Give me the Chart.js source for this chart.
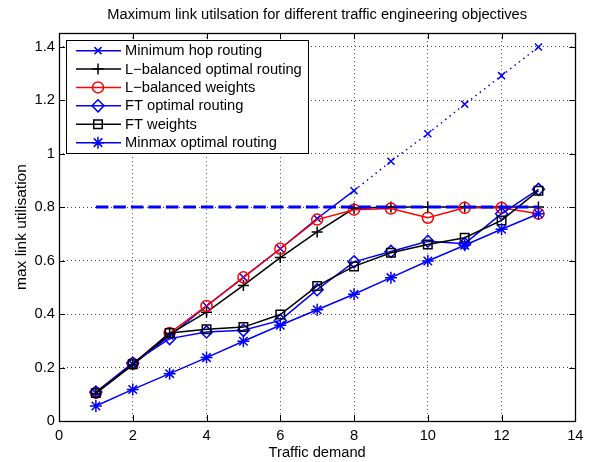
<!DOCTYPE html>
<html>
<head>
<meta charset="utf-8">
<script src="https://cdn.jsdelivr.net/npm/chart.js@4/dist/chart.umd.min.js"></script>
<style>
html,body{margin:0;padding:0;background:#fff;}
#wrap{width:590px;height:462px;position:relative;}
</style>
</head>
<body>
<div id="wrap"><canvas id="c" width="590" height="462"></canvas></div>
<script>
const demand = [1,2,3,4,5,6,7,8,9,10,11,12,13];
const minHop      = [0.105,0.212,0.318,0.43,0.537,0.644,0.757,0.861,0.971,1.074,1.184,1.291,1.398];
const lbOptimal   = [0.103,0.21,0.325,0.407,0.507,0.611,0.707,0.795,0.8,0.8,0.8,0.8,0.8];
const lbWeights   = [0.105,0.214,0.329,0.43,0.537,0.644,0.753,0.79,0.794,0.76,0.797,0.797,0.775];
const ftOptimal   = [0.108,0.217,0.308,0.333,0.339,0.376,0.491,0.595,0.634,0.672,0.663,0.775,0.866];
const ftWeights   = [0.105,0.212,0.329,0.343,0.351,0.398,0.505,0.578,0.629,0.66,0.685,0.75,0.861];
const minmax      = [0.056,0.118,0.177,0.237,0.298,0.358,0.416,0.474,0.536,0.598,0.657,0.717,0.775];
const capacityX   = [1,13];
const capacityY   = [0.8,0.8];
const xTicks = [0,2,4,6,8,10,12,14];
const yTicks = [0,0.2,0.4,0.6,0.8,1,1.2,1.4];
const seriesNames = ['Minimum hop routing','L\u2212balanced optimal routing','L\u2212balanced weights','FT optimal routing','FT weights','Minmax optimal routing'];

const pts = (xs, ys) => xs.map((x,i)=>({x:x,y:ys[i]}));
const FONT = "'Liberation Sans', Arial, sans-serif";
const FS = 14.7;

const styles = [
  {color:'#0000ff', point:'crossRot', r:5},
  {color:'#000000', point:'cross', r:5.5},
  {color:'#ff0000', point:'circle', r:5.5},
  {color:'#0000ff', point:'rectRot', r:6},
  {color:'#000000', point:'rect', r:6},
  {color:'#0000ff', point:'star', r:6}
];
const seriesData = [minHop, lbOptimal, lbWeights, ftOptimal, ftWeights, minmax];

const datasets = seriesData.map((d,i)=>({
  label: seriesNames[i],
  data: pts(demand, d),
  borderColor: styles[i].color,
  backgroundColor: 'transparent',
  borderWidth: 1.5,
  pointStyle: styles[i].point,
  pointRadius: styles[i].r,
  pointBorderColor: styles[i].color,
  pointBackgroundColor: 'transparent',
  pointBorderWidth: 1.5,
  tension: 0,
  order: 6 - i,
  segment: i === 0 ? { borderDash: ctx => ctx.p0DataIndex >= 7 ? [1.5,4] : undefined } : undefined
}));
datasets.push({
  label: 'capacity',
  data: pts(capacityX, capacityY),
  borderColor: '#0000ff',
  borderWidth: 3,
  borderDash: [12.5,5],
  pointRadius: 0,
  order: 0
});

const framePlugin = {
  id: 'frame',
  afterLayout(chart) {
    const tb = chart.titleBlock;
    if (tb) {
      tb.left = chart.chartArea.left;
      tb.right = chart.chartArea.right;
      tb.width = tb.right - tb.left;
    }
  },
  afterDatasetsDraw(chart) {
    const {ctx, chartArea: a, scales} = chart;
    ctx.save();
    ctx.strokeStyle = '#000';
    ctx.lineWidth = 1;
    ctx.beginPath();
    xTicks.forEach(v => {
      const px = Math.round(scales.x.getPixelForValue(v)) + 0.5;
      ctx.moveTo(px, a.bottom); ctx.lineTo(px, a.bottom - 6);
      ctx.moveTo(px, a.top); ctx.lineTo(px, a.top + 6);
    });
    yTicks.forEach(v => {
      const py = Math.round(scales.y.getPixelForValue(v)) + 0.5;
      ctx.moveTo(a.left, py); ctx.lineTo(a.left + 6, py);
      ctx.moveTo(a.right, py); ctx.lineTo(a.right - 6, py);
    });
    ctx.stroke();
    ctx.lineWidth = 1.3;
    ctx.strokeRect(Math.round(a.left)+0.5, Math.round(a.top)+0.5, Math.round(a.right-a.left), Math.round(a.bottom-a.top));

    // legend box
    const lx = a.left + 7, ly = a.top + 7, lw = 242, lh = 113;
    ctx.fillStyle = '#fff';
    ctx.fillRect(lx, ly, lw, lh);
    ctx.lineWidth = 1;
    ctx.strokeStyle = '#000';
    ctx.strokeRect(Math.round(lx)+0.5, Math.round(ly)+0.5, lw, lh);
    ctx.font = FS + 'px ' + FONT;
    ctx.textBaseline = 'middle';
    ctx.textAlign = 'left';
    seriesNames.forEach((name, i) => {
      const y = ly + 10.5 + i * 18.4;
      const st = styles[i];
      ctx.strokeStyle = st.color;
      ctx.lineWidth = 1.5;
      ctx.setLineDash([]);
      ctx.beginPath();
      ctx.moveTo(lx + 10, y); ctx.lineTo(lx + 55, y);
      ctx.stroke();
      ctx.fillStyle = 'rgba(0,0,0,0)';
      ctx.strokeStyle = st.color;
      Chart.helpers.drawPoint(ctx, {pointStyle: st.point, radius: st.r, borderWidth: 1.5, rotation: 0}, lx + 32, y);
      ctx.fillStyle = '#000';
      ctx.fillText(name, lx + 59, y + 0.5);
    });
    ctx.restore();
  }
};

new Chart(document.getElementById('c'), {
  type: 'line',
  data: { datasets },
  options: {
    responsive: false,
    animation: false,
    devicePixelRatio: 1,
    layout: { padding: { left: 0, right: 11, top: 0, bottom: 0 } },
    plugins: {
      legend: { display: false },
      tooltip: { enabled: false },
      title: {
        display: true,
        text: 'Maximum link utilsation for different traffic engineering objectives',
        color: '#000',
        font: { family: FONT, size: FS, weight: 'normal' },
        padding: { top: 6, bottom: 9.5 }
      }
    },
    scales: {
      x: {
        type: 'linear', min: 0, max: 14,
        afterBuildTicks: s => { s.ticks = xTicks.map(v => ({value: v})); },
        afterFit: s => { s.height = 41; },
        ticks: { color: '#000', font: { family: FONT, size: FS }, padding: 6.5, maxRotation: 0 },
        grid: { color: 'rgba(0,0,0,0.7)', lineWidth: 1, drawTicks: false },
        border: { display: false, dash: [1,3] },
        title: { display: true, text: 'Traffic demand', color: '#000', font: { family: FONT, size: FS }, padding: { top: 0, bottom: 0.5 } }
      },
      y: {
        type: 'linear', min: 0, max: 1.45,
        afterBuildTicks: s => { s.ticks = yTicks.map(v => ({value: v})); },
        afterFit: s => { s.width = 59; },
        ticks: { color: '#000', font: { family: FONT, size: FS }, padding: 4, callback: v => String(Math.round(v*10)/10) },
        grid: { color: 'rgba(0,0,0,0.7)', lineWidth: 1, drawTicks: false },
        border: { display: false, dash: [1,3] },
        title: { display: true, text: 'max link utilisation', color: '#000', font: { family: FONT, size: 15.5 }, padding: { top: 12, bottom: 0 } }
      }
    }
  },
  plugins: [framePlugin]
});
</script>
</body>
</html>
